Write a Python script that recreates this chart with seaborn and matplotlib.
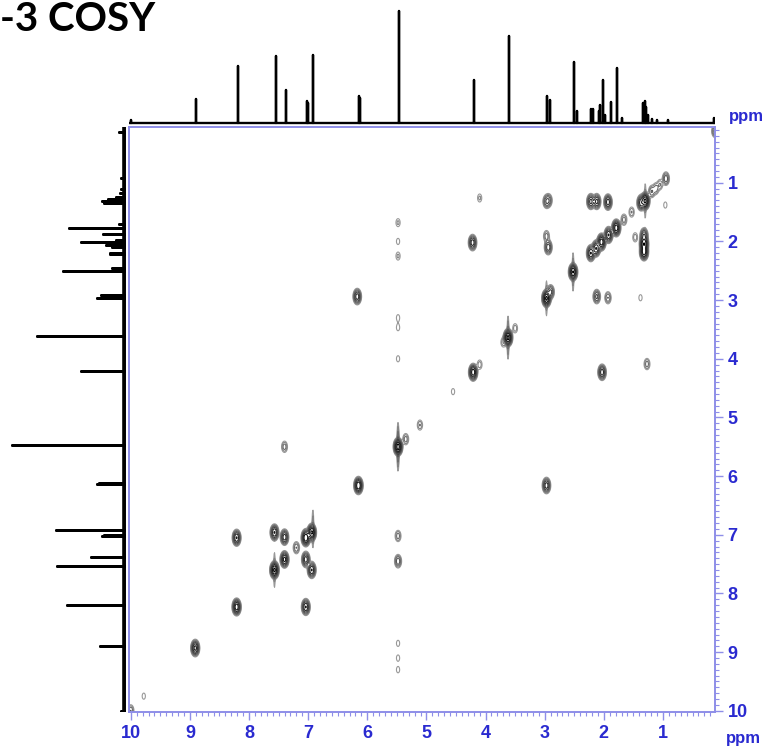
import numpy as np
import pandas as pd
import matplotlib
matplotlib.use("Agg")
import matplotlib.pyplot as plt
from matplotlib.ticker import MultipleLocator, FixedLocator
import seaborn as sns

# ---------------- data ----------------
# 1D 1H projection: peak positions (ppm) and heights (arbitrary units)
peak_ppm = [10.00, 8.89, 8.19, 7.54, 7.37, 7.025, 7.005, 6.92, 6.14, 6.12,
            5.47, 4.20, 3.61, 2.96, 2.91, 2.50, 2.45, 2.21, 2.19, 2.09,
            2.06, 2.01, 1.98, 1.88, 1.77, 1.70, 1.34, 1.31, 1.28, 1.25,
            1.18, 1.10, 0.92, 0.13]
peak_height = [3, 23.7, 56.7, 67, 33, 21.7, 20, 68, 27, 25,
               112, 43, 87, 27, 23, 61, 12, 14, 14, 12,
               18, 43, 8, 21, 55, 5, 20, 22, 16, 8,
               4, 3, 3, 5]

# 2D COSY peaks: F2 (ppm), F1 (ppm), relative intensity
cp_f2 = [8.91, 8.21, 7.57, 7.40, 7.04, 6.94, 7.20, 6.15, 5.48, 5.35, 5.11, 4.55,
         4.21, 4.10, 3.62, 3.50, 3.70, 2.97, 2.90, 2.52, 2.22, 2.13, 2.04, 1.92,
         1.79, 1.66, 1.53, 1.30, 1.37, 1.19, 1.12, 1.05, 0.95, 0.12, 10.00, 9.78,
         8.21, 7.04, 7.57, 6.94, 7.40, 7.04, 7.40, 5.48, 5.48,
         6.17, 2.97, 4.22, 2.03, 4.10, 1.27, 2.97, 2.93, 2.97, 2.94,
         2.22, 2.12, 1.93, 1.32, 1.32, 1.32, 2.12, 1.93, 1.38, 1.47, 0.96,
         5.48, 5.48, 5.48, 5.48, 5.48, 5.48, 5.48, 5.48, 5.48]
cp_f1 = [8.93, 8.23, 7.60, 7.42, 7.05, 6.96, 7.22, 6.16, 5.50, 5.37, 5.13, 4.56,
         4.23, 4.10, 3.64, 3.48, 3.72, 2.97, 2.86, 2.52, 2.20, 2.12, 2.01, 1.89,
         1.77, 1.63, 1.50, 1.31, 1.34, 1.15, 1.10, 1.03, 0.93, 0.12, 10.00, 9.75,
         7.05, 8.23, 6.96, 7.60, 7.04, 7.42, 5.50, 7.02, 7.45,
         2.94, 6.16, 2.02, 4.23, 1.26, 4.09, 1.32, 1.30, 1.91, 2.10,
         1.32, 1.32, 1.33, 2.04, 2.18, 1.90, 2.94, 2.96, 2.96, 1.93, 1.38,
         1.68, 2.00, 2.25, 3.30, 3.47, 4.00, 8.85, 9.10, 9.30]
cp_int = [0.6, 0.7, 0.9, 0.6, 0.8, 0.9, 0.1, 0.8, 1.0, 0.08, 0.06, 0.03,
          0.7, 0.05, 0.9, 0.05, 0.05, 0.9, 0.2, 0.8, 0.5, 0.5, 0.7, 0.5,
          0.7, 0.08, 0.06, 0.9, 0.4, 0.1, 0.08, 0.06, 0.15, 0.12, 0.1, 0.03,
          0.5, 0.5, 0.5, 0.5, 0.4, 0.4, 0.08, 0.08, 0.15,
          0.4, 0.4, 0.4, 0.4, 0.04, 0.08, 0.15, 0.12, 0.08, 0.25,
          0.35, 0.35, 0.4, 0.8, 0.7, 0.3, 0.2, 0.1, 0.03, 0.05, 0.03,
          0.04, 0.03, 0.04, 0.03, 0.03, 0.03, 0.03, 0.03, 0.03]

# t1-noise ridges (vertical streaks) through strong peaks
ridge_f2 = [5.48, 3.62, 2.52, 6.92, 2.97, 1.30, 7.57]
ridge_f1 = [5.50, 3.64, 2.52, 6.90, 2.97, 1.31, 7.60]
ridge_int = [0.12, 0.08, 0.06, 0.06, 0.05, 0.05, 0.05]

x_ticks = [10, 9, 8, 7, 6, 5, 4, 3, 2, 1]
y_ticks = [1, 2, 3, 4, 5, 6, 7, 8, 9, 10]

# ---------------- styling ----------------
sns.set_theme(style="white")
plt.rcParams["font.family"] = ["Liberation Sans Narrow", "Liberation Sans", "DejaVu Sans"]
BLUE = "#2a2ad0"
FRAME = "#8e8ee8"

W, H = 763, 754
fig = plt.figure(figsize=(W / 100, H / 100), dpi=100)

def frac_rect(x0, y0, x1, y1):
    return [x0 / W, 1 - y1 / H, (x1 - x0) / W, (y1 - y0) / H]

XLIM = (10.03, 0.12)
YLIM = (10.02, 0.05)

# ---------------- main 2D contour ----------------
ax = fig.add_axes(frac_rect(129, 127, 715, 712))
gx = np.arange(0.05, 10.1, 0.007)
gy = np.arange(0.0, 10.1, 0.007)
Z = np.zeros((gy.size, gx.size))
sx, sy = 0.030, 0.058
for a, b, c in zip(cp_f2, cp_f1, cp_int):
    Z += c * np.outer(np.exp(-0.5 * ((gy - b) / sy) ** 2), np.exp(-0.5 * ((gx - a) / sx) ** 2))
for a, b, c in zip(ridge_f2, ridge_f1, ridge_int):
    Z += c * np.outer(np.exp(-0.5 * ((gy - b) / 0.22) ** 2), np.exp(-0.5 * ((gx - a) / 0.010) ** 2))
levels = 0.02 * 1.7 ** np.arange(8)
cols = [str(v) for v in np.linspace(0.6, 0.0, levels.size)]
ax.contour(gx, gy, Z, levels=levels, colors=cols, linewidths=0.8)
ax.set_xlim(*XLIM)
ax.set_ylim(*YLIM)
ax.yaxis.tick_right()
ax.xaxis.set_major_locator(FixedLocator(x_ticks))
ax.yaxis.set_major_locator(FixedLocator(y_ticks))
ax.xaxis.set_minor_locator(MultipleLocator(0.1))
ax.yaxis.set_minor_locator(MultipleLocator(0.1))
ax.set_xticklabels([str(t) for t in x_ticks])
ax.set_yticklabels([str(t) for t in y_ticks])
ax.tick_params(which="major", direction="out", length=6, width=1.0, color=FRAME,
               labelcolor=BLUE, labelsize=13, pad=3)
ax.tick_params(which="minor", direction="out", length=3, width=0.8, color=FRAME)
ax.tick_params(axis="x", which="both", bottom=True, top=False)
ax.tick_params(axis="y", which="both", right=True, left=False)
for lab in ax.get_xticklabels() + ax.get_yticklabels():
    lab.set_fontweight("bold")
for sp in ax.spines.values():
    sp.set_color(FRAME)
    sp.set_linewidth(1.4)
ax.set_xlabel("")
ax.set_ylabel("")
ax.grid(False)

# ---------------- stick-spectrum traces built from the peak list ----------------
order = np.argsort(peak_ppm)[::-1]
trace_ppm, trace_h = [10.2], [0.0]
for i in order:
    p, h = peak_ppm[i], peak_height[i]
    trace_ppm += [p, p, p]
    trace_h += [0.0, h, 0.0]
trace_ppm.append(-0.1)
trace_h.append(0.0)
trace = pd.DataFrame({"ppm": trace_ppm, "h": trace_h})

# top projection (baseline at y = 122.7 px)
axt = fig.add_axes(frac_rect(129, 0, 715, 126))
sns.lineplot(data=trace, x="ppm", y="h", sort=False, estimator=None,
             color="black", lw=1.7, ax=axt)
axt.set_xlim(*XLIM)
axt.set_ylim(-3.3, 122.7)
axt.axis("off")

# left projection (baseline at x = 124 px)
axl = fig.add_axes(frac_rect(0, 127, 128, 712))
sns.lineplot(x=trace["h"].to_numpy(), y=trace["ppm"].to_numpy(), sort=False,
             estimator=None, color="black", lw=2.0, ax=axl)
axl.axvline(0, color="black", lw=2.6)
axl.set_xlim(124, -4)
axl.set_ylim(*YLIM)
axl.axis("off")

# labels
fig.text(729 / W, 1 - 117 / H, "ppm", color=BLUE, fontsize=12, fontweight="bold",
         ha="left", va="center")
fig.text(726 / W, 1 - 738 / H, "ppm", color=BLUE, fontsize=12, fontweight="bold",
         ha="left", va="center")
fig.text(0, 1 - 1 / H, "-3 COSY", fontsize=29, fontweight="bold", color="black",
         family=["Lato", "DejaVu Sans"], ha="left", va="top")

fig.savefig("out.png", dpi=100)
